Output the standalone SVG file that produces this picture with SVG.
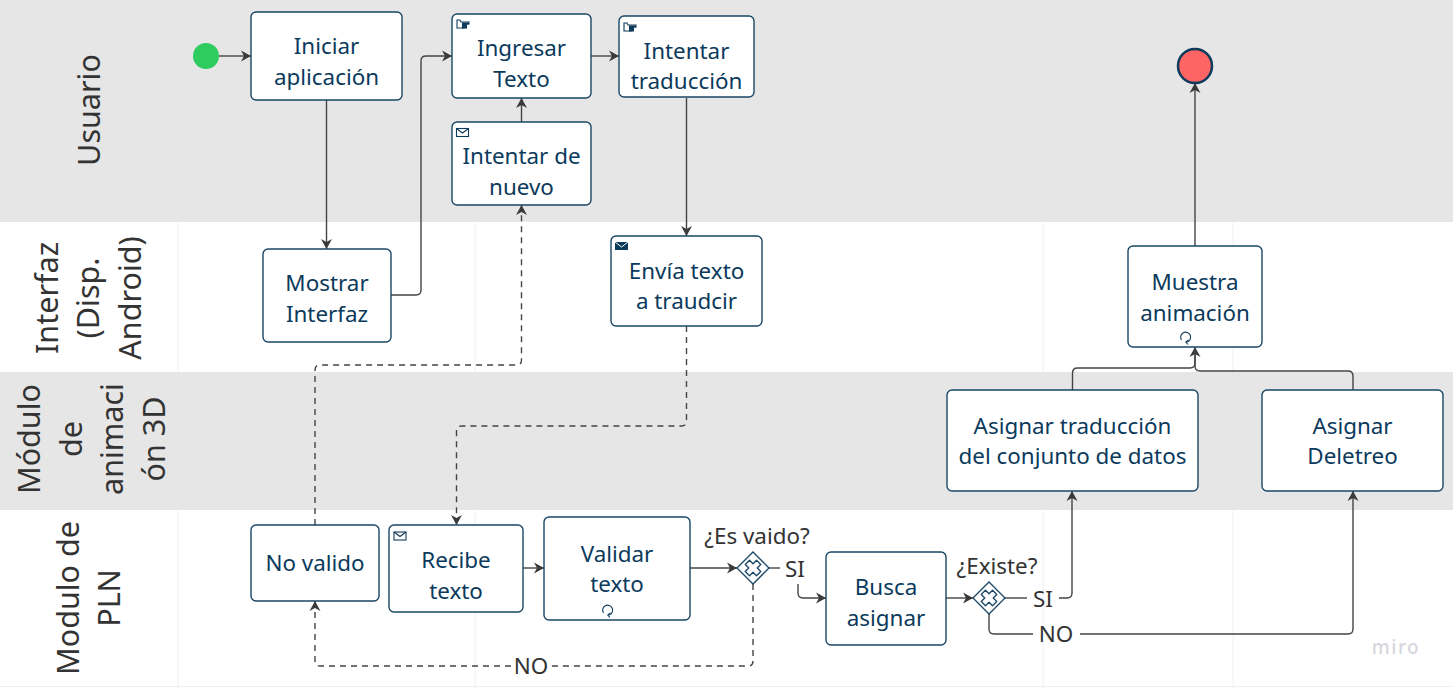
<svg xmlns="http://www.w3.org/2000/svg" width="1453" height="688" viewBox="0 0 1453 688">
<style>
text{font-family:"Noto Sans","Open Sans","Liberation Sans",sans-serif}
.n{fill:#fff;stroke:#1a4766;stroke-width:1.4}
.t{font-size:22.400px;fill:#0b3a5c;text-anchor:middle}
.l{font-size:22.400px;fill:#333;text-anchor:middle}
.h{font-size:30.500px;fill:#333;text-anchor:middle}
.c{fill:none;stroke:#444;stroke-width:1.4}
.d{stroke-dasharray:6 5}
.i{fill:none;stroke:#0e3a5c;stroke-width:1.1}
.g{stroke:#f0f0f0;stroke-width:1}
</style>
<defs>
<marker id="a" markerUnits="userSpaceOnUse" markerWidth="14" markerHeight="14" refX="11" refY="7" orient="auto"><path d="M1 1.500L11 7L1 12.500L4 7Z" fill="#3a3a3a"/></marker>
<g id="mail"><rect x="0" y="0" width="12" height="8" class="i"/><path d="M0 0L6 4.500L12 0" class="i"/></g>
<g id="hand"><path d="M0 0V8H7V6H9V4H12V2H4L3 0Z" class="i"/><path d="M5 2.500H12V4.500H10V8.500H5Z" fill="#0e3a5c"/></g>
<g id="loop"><path d="M-3.500 3A5 5 0 1 1 2 5" class="i"/><path d="M3.500 3L0.800 5L3 7.500" class="i"/></g>
<g id="x"><path d="M-16 0L0 -16L16 0L0 16Z" fill="#fff" stroke="#1a4766" stroke-width="1.3"/><path d="M-3 -8H3L3 -3H8V3H3V8H-3V3H-8V-3H-3Z" transform="rotate(45)" fill="#fff" stroke="#1a4766" stroke-width="1.300" stroke-linejoin="round"/></g>
</defs>
<rect width="1453" height="688" fill="#fff"/>
<g id="bands">
<rect x="0" y="0" width="1453" height="222" fill="#e6e6e6"/>
<rect x="0" y="372" width="1453" height="138" fill="#e6e6e6"/>
<path class="g" d="M178 222V372M178 510V688M475 222V372M475 510V688M1043 222V372M1043 510V688M1233 222V372M1233 510V688M0 686.500H1453"/>
</g>
<g id="lanes">
<text class="h" transform="translate(100 110) rotate(-90)">Usuario</text>
<text class="h" transform="translate(58 298) rotate(-90)">Interfaz</text>
<text class="h" transform="translate(99 298) rotate(-90)">(Disp.</text>
<text class="h" transform="translate(141 298) rotate(-90)">Android)</text>
<text class="h" transform="translate(40 439) rotate(-90)">Módulo</text>
<text class="h" transform="translate(82 439) rotate(-90)">de</text>
<text class="h" transform="translate(123 439) rotate(-90)">animaci</text>
<text class="h" transform="translate(165 439) rotate(-90)">ón 3D</text>
<text class="h" transform="translate(79 598) rotate(-90)">Modulo de</text>
<text class="h" transform="translate(120 598) rotate(-90)">PLN</text>
</g>
<g id="connectors">
<path class="c" marker-end="url(#a)" d="M219 56H251"/>
<path class="c" marker-end="url(#a)" d="M326.500 100V249"/>
<path class="c" marker-end="url(#a)" d="M391 295H416Q421 295 421 290V61Q421 56 426 56H452"/>
<path class="c" marker-end="url(#a)" d="M591 56H619"/>
<path class="c" marker-end="url(#a)" d="M521.500 122V98"/>
<path class="c" marker-end="url(#a)" d="M686.500 98V236"/>
<path class="c d" marker-end="url(#a)" d="M315 525V370Q315 365 320 365H516.500Q521.500 365 521.500 360V205"/>
<path class="c d" marker-end="url(#a)" d="M686.500 326V421Q686.500 426 681.500 426H461.500Q456.500 426 456.500 431V525"/>
<path class="c" marker-end="url(#a)" d="M523 568H544"/>
<path class="c" marker-end="url(#a)" d="M690 568H737"/>
<path class="c" d="M769 568H780"/>
<path class="c" marker-end="url(#a)" d="M798 584V593Q798 598 803 598H826"/>
<path class="c" marker-end="url(#a)" d="M946 598H973"/>
<path class="c" d="M1005 598H1027"/>
<path class="c" marker-end="url(#a)" d="M1059 598H1067Q1072 598 1072 593V491"/>
<path class="c" d="M989 614V629Q989 634 994 634H1033"/>
<path class="c" marker-end="url(#a)" d="M1080 634H1348Q1353 634 1353 629V491"/>
<path class="c d" marker-end="url(#a)" d="M753 584V661Q753 666 748 666H551M511 666H320Q315 666 315 661V601"/>
<path class="c" marker-end="url(#a)" d="M1072.500 390V373Q1072.500 368 1077.500 368H1190Q1195 368 1195 363V347"/>
<path class="c" d="M1353 390V376Q1353 371 1348 371H1200Q1195 371 1195 366V350"/>
<path class="c" marker-end="url(#a)" d="M1195 246V83"/>
</g>
<g id="start"><circle cx="206" cy="56" r="13" fill="#2ecc5f"/></g>
<g id="end"><circle cx="1195" cy="66" r="17" fill="#ff6464" stroke="#0e3a5c" stroke-width="2.500"/></g>
<g id="iniciar"><rect class="n" x="251" y="12" width="151" height="88" rx="5"/><text class="t" x="326.500" y="54">Iniciar</text><text class="t" x="326.500" y="85">aplicación</text></g>
<g id="ingresar"><rect class="n" x="452" y="14" width="139" height="84" rx="5"/><use href="#hand" x="457" y="20"/><text class="t" x="521.500" y="56">Ingresar</text><text class="t" x="521.500" y="87">Texto</text></g>
<g id="intentar"><rect class="n" x="619" y="16" width="135" height="81" rx="5"/><use href="#hand" x="624" y="23"/><text class="t" x="686.500" y="59">Intentar</text><text class="t" x="686.500" y="89">traducción</text></g>
<g id="nuevo"><rect class="n" x="452" y="122" width="139" height="83" rx="5"/><use href="#mail" x="456.500" y="128.500"/><text class="t" x="521.500" y="164">Intentar de</text><text class="t" x="521.500" y="195">nuevo</text></g>
<g id="mostrar"><rect class="n" x="263" y="249" width="128" height="93" rx="5"/><text class="t" x="327" y="291">Mostrar</text><text class="t" x="327" y="322">Interfaz</text></g>
<g id="envia"><rect class="n" x="611" y="236" width="151" height="90" rx="5"/><rect x="615" y="242" width="13" height="8" fill="#0e3a5c"/><path d="M615 242L621.500 247L628 242" fill="none" stroke="#fff"/><text class="t" x="686.500" y="279">Envía texto</text><text class="t" x="686.500" y="309">a traudcir</text></g>
<g id="muestra"><rect class="n" x="1128" y="246" width="134" height="101" rx="5"/><text class="t" x="1195" y="290">Muestra</text><text class="t" x="1195" y="321">animación</text><use href="#loop" x="1185" y="337"/></g>
<g id="asignar-t"><rect class="n" x="947" y="390" width="251" height="101" rx="5"/><text class="t" x="1072.500" y="434">Asignar traducción</text><text class="t" x="1072.500" y="464">del conjunto de datos</text></g>
<g id="deletreo"><rect class="n" x="1262" y="390" width="181" height="101" rx="5"/><text class="t" x="1352.500" y="434">Asignar</text><text class="t" x="1352.500" y="464">Deletreo</text></g>
<g id="novalido"><rect class="n" x="251" y="525" width="128" height="76" rx="5"/><text class="t" x="315" y="571">No valido</text></g>
<g id="recibe"><rect class="n" x="389" y="525" width="134" height="87" rx="5"/><use href="#mail" x="394" y="532"/><text class="t" x="456" y="568">Recibe</text><text class="t" x="456" y="599">texto</text></g>
<g id="validar"><rect class="n" x="544" y="517" width="146" height="103" rx="5"/><text class="t" x="617" y="562">Validar</text><text class="t" x="617" y="592">texto</text><use href="#loop" x="607" y="610"/></g>
<g id="busca"><rect class="n" x="826" y="552" width="120" height="93" rx="5"/><text class="t" x="886" y="595">Busca</text><text class="t" x="886" y="626">asignar</text></g>
<g id="gw1"><use href="#x" x="753" y="568"/></g>
<g id="gw2"><use href="#x" x="989" y="598"/></g>
<g id="labels">
<text class="l" x="757" y="544">¿Es vaido?</text>
<text class="l" x="795" y="577">SI</text>
<text class="l" x="997" y="574">¿Existe?</text>
<text class="l" x="1043" y="607">SI</text>
<text class="l" x="1056" y="642">NO</text>
<text class="l" x="531" y="674">NO</text>
<text x="1396" y="654" font-size="19" font-weight="500" letter-spacing="1.500" fill="#d6d6de" text-anchor="middle">miro</text>
</g>
</svg>
